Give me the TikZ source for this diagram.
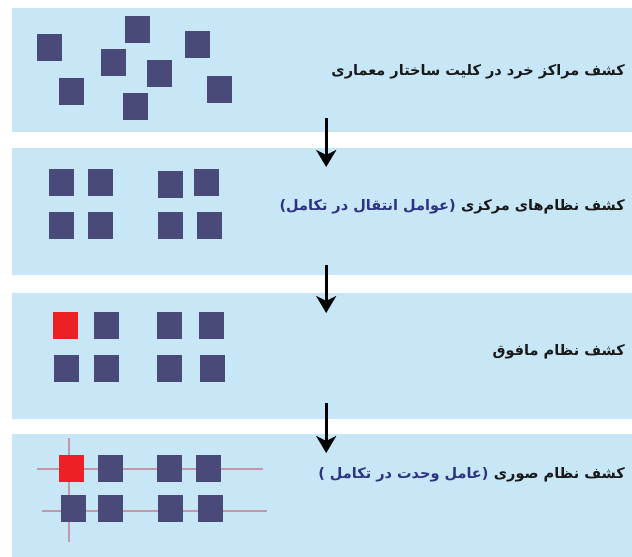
\documentclass[tikz,border=0pt]{standalone}
\usepackage{fontspec}
\newfontfamily\arabicfont[Script=Arabic]{DejaVu Sans}
\TeXXeTstate=1
\usetikzlibrary{arrows.meta}
\definecolor{panelbg}{RGB}{199,231,247}
\definecolor{sq}{RGB}{74,74,122}
\definecolor{sqred}{RGB}{236,32,38}
\definecolor{gridln}{RGB}{196,150,170}
\definecolor{navytxt}{RGB}{45,50,130}
\definecolor{txtblack}{RGB}{25,25,25}
\begin{document}
\begin{tikzpicture}[x=1pt,y=-1pt,
  panel/.style={fill=panelbg, draw=none, minimum width=620pt, inner sep=0pt, anchor=north west},
  blk/.style={fill=sq, minimum width=25pt, minimum height=27pt, inner sep=0pt},
  hot/.style={blk, fill=sqred},
  lbl/.style={font=\arabicfont\bfseries\fontsize{14.5}{17}\selectfont, inner sep=0pt, text=txtblack, anchor=base east},
  lblb/.style={lbl, text=navytxt},
  arr/.style={line width=3pt, -{Stealth[length=17pt,width=20pt,inset=5pt]}},
  gl/.style={gridln, line width=1.5pt}]
\useasboundingbox (0,0) rectangle (632,557);
% panels
\node[panel, minimum height=124pt] (p1) at (12,8) {};
\node[panel, minimum height=127pt] (p2) at (12,148) {};
\node[panel, minimum height=126pt] (p3) at (12,293) {};
\node[panel, minimum height=123pt] (p4) at (12,434) {};
% panel 1 squares
\node[blk] (a1) at (49.5,47) {};
\node[blk] (a2) at (137,29.5) {};
\node[blk] (a3) at (197.5,44.5) {};
\node[blk] (a4) at (113.5,62) {};
\node[blk] (a5) at (159.5,73.5) {};
\node[blk] (a6) at (71.5,91.5) {};
\node[blk] (a7) at (135,106.5) {};
\node[blk] (a8) at (219.5,89.5) {};
% panel 2 squares
\node[blk] (b1) at (61.5,182.5) {};
\node[blk] (b2) at (100.5,182.5) {};
\node[blk] (b3) at (170.5,184.5) {};
\node[blk] (b4) at (206.5,182.5) {};
\node[blk] (b5) at (61.5,225.5) {};
\node[blk] (b6) at (100,225.5) {};
\node[blk] (b7) at (170.5,225.5) {};
\node[blk] (b8) at (209,225.5) {};
% panel 3 squares
\node[hot] (c1) at (65.5,325.5) {};
\node[blk] (c2) at (106.5,325.5) {};
\node[blk] (c3) at (169.5,325.5) {};
\node[blk] (c4) at (211.5,325.5) {};
\node[blk] (c5) at (66.5,368.5) {};
\node[blk] (c6) at (106.5,368.5) {};
\node[blk] (c7) at (169.5,368.5) {};
\node[blk] (c8) at (212.5,368.5) {};
% panel 4 lines
\coordinate (h1a) at (37,469); \coordinate (h1b) at (263,469);
\coordinate (h2a) at (42,511); \coordinate (h2b) at (267,511);
\coordinate (v1a) at (69,438); \coordinate (v1b) at (69,542);
\draw[gl] (h1a) -- (h1b);
\draw[gl] (h2a) -- (h2b);
\draw[gl] (v1a) -- (v1b);
% panel 4 squares
\node[hot] (d1) at (71,468) {};
\node[blk] (d2) at (110.5,468) {};
\node[blk] (d3) at (169.5,468) {};
\node[blk] (d4) at (208.5,468) {};
\node[blk] (d5) at (73.5,508.5) {};
\node[blk] (d6) at (110.5,508.5) {};
\node[blk] (d7) at (170.5,508.5) {};
\node[blk] (d8) at (210.5,508.5) {};
% labels
\node[lbl] (t1) at (625,75) {\beginR کشف مراکز خرد در کلیت ساختار معماری\endR};
\node[lbl] (t2a) at (625,210) {\beginR کشف نظام‌های مرکزی\endR};
\node[lblb] (t2b) at ([xshift=-5pt]t2a.base west) {\beginR (عوامل انتقال در تکامل)\endR};
\node[lbl] (t3) at (625,355) {\beginR کشف نظام مافوق\endR};
\node[lbl] (t4a) at (625,478) {\beginR کشف نظام صوری\endR};
\node[lblb] (t4b) at ([xshift=-5pt]t4a.base west) {\beginR (عامل وحدت در تکامل )\endR};
% arrows
\draw[arr] ([xshift=4pt,yshift=14pt]p1.south) -- ([xshift=4pt,yshift=-19pt]p2.north);
\draw[arr] ([xshift=4pt,yshift=10pt]p2.south) -- ([xshift=4pt,yshift=-20pt]p3.north);
\draw[arr] ([xshift=4pt,yshift=16pt]p3.south) -- ([xshift=4pt,yshift=-19pt]p4.north);
\end{tikzpicture}
\end{document}
